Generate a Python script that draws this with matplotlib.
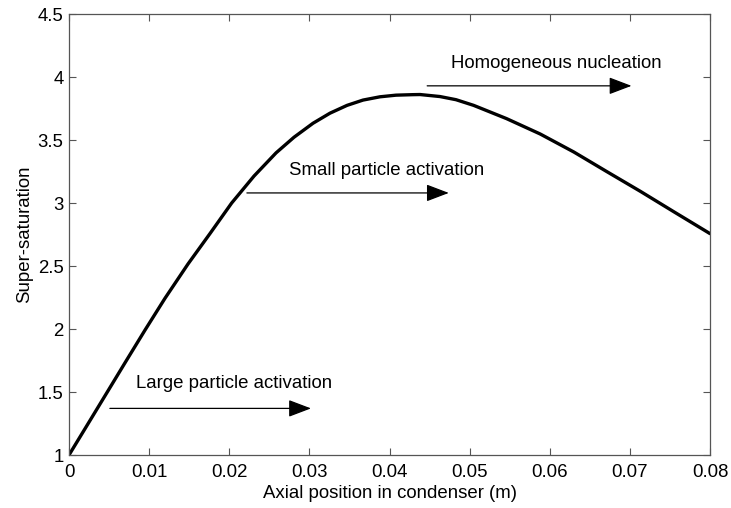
import numpy as np
import matplotlib
matplotlib.use("Agg")
import matplotlib.pyplot as plt

plt.rcParams['font.family'] = ['Liberation Sans', 'DejaVu Sans']

# curve
pos = [0.0, 0.0020, 0.00474, 0.00699, 0.00949, 0.01198, 0.01485, 0.0176, 0.0203,
       0.02309, 0.02584, 0.02808, 0.03045, 0.03257, 0.0347, 0.03669, 0.03881,
       0.04081, 0.04293, 0.04381, 0.0463, 0.0483, 0.0505, 0.0546, 0.0588,
       0.0630, 0.0671, 0.0713, 0.0755, 0.0800]
sat = [1.0, 1.209, 1.496, 1.732, 1.992, 2.244, 2.516, 2.758, 3.0,
       3.214, 3.398, 3.522, 3.633, 3.713, 3.775, 3.817, 3.843,
       3.856, 3.860, 3.861, 3.845, 3.820, 3.775, 3.670, 3.548,
       3.405, 3.250, 3.093, 2.930, 2.757]

# annotations: label, text centre, arrow start, arrow end
labels = ["Large particle activation", "Small particle activation", "Homogeneous nucleation"]
text_xy = [(0.0206, 1.567), (0.0396, 3.26), (0.0608, 4.11)]
arrow_from = [(0.0051, 1.37), (0.0222, 3.08), (0.0447, 3.93)]
arrow_to = [(0.0302, 1.37), (0.0474, 3.08), (0.0702, 3.93)]

fig = plt.figure(figsize=(7.31, 5.08), dpi=100)
ax = fig.add_axes([0.0944, 0.1043, 0.8769, 0.8681])

ax.plot(pos, sat, color='black', lw=2.4, solid_joinstyle='round', solid_capstyle='round')

for lab, t, a, b in zip(labels, text_xy, arrow_from, arrow_to):
    ax.text(t[0], t[1], lab, ha='center', va='center', fontsize=13.4)
    ax.annotate('', xy=b, xytext=a,
                arrowprops=dict(arrowstyle='-|>,head_length=1.0,head_width=0.38',
                                color='black', lw=0.9, shrinkA=0, shrinkB=0,
                                mutation_scale=14))

ax.set_xlim(0, 0.08)
ax.set_ylim(1, 4.5)
ax.set_xticks(np.arange(0, 0.081, 0.01))
ax.set_xticklabels(['0', '0.01', '0.02', '0.03', '0.04', '0.05', '0.06', '0.07', '0.08'])
ax.set_yticks(np.arange(1, 4.51, 0.5))
ax.set_yticklabels(['1', '1.5', '2', '2.5', '3', '3.5', '4', '4.5'])
ax.tick_params(direction='in', top=True, right=True, length=5, labelsize=13.4,
               color='#555555')
ax.tick_params(axis='x', pad=6.5)
ax.tick_params(axis='y', pad=4)
for s in ax.spines.values():
    s.set_color('#555555')
    s.set_linewidth(0.9)
ax.set_xlabel('Axial position in condenser (m)', fontsize=13.4, labelpad=2.5)
ax.set_ylabel('Super-saturation', fontsize=13.4, labelpad=3)

fig.savefig('out.png', dpi=100)
